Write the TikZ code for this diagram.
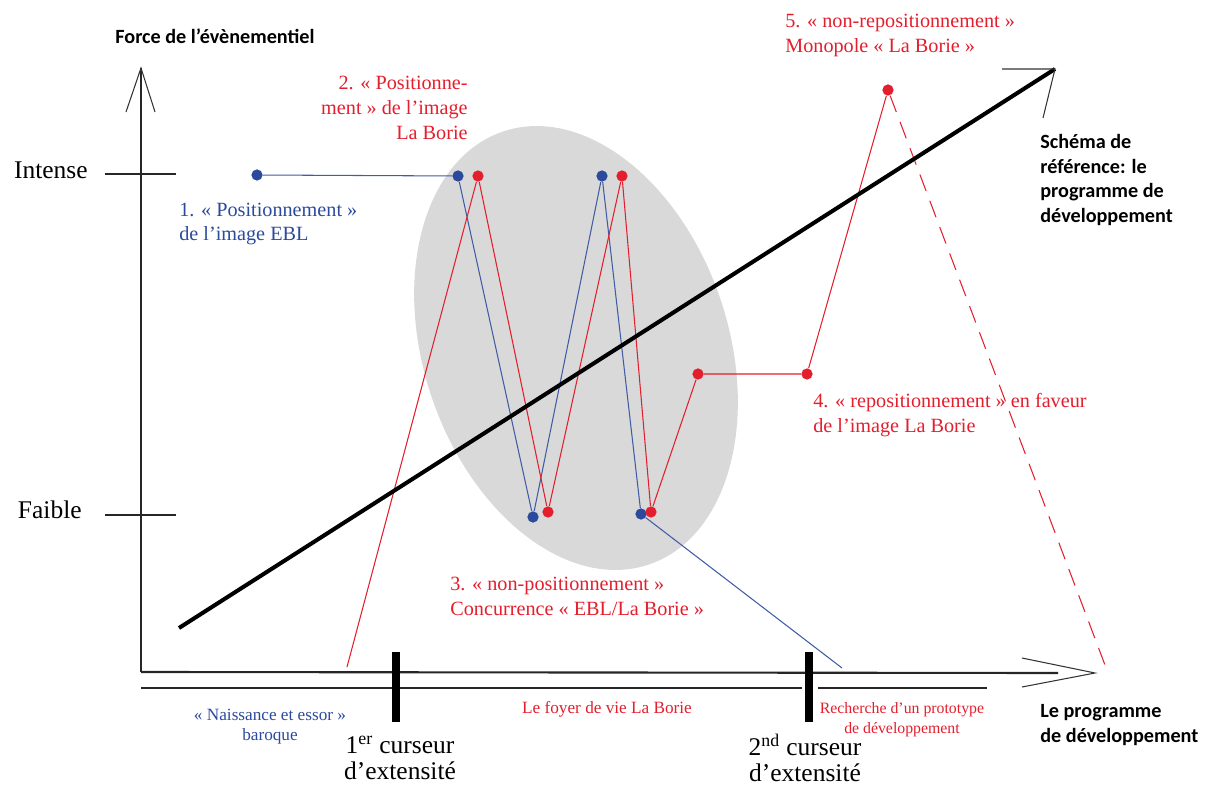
\documentclass[tikz,border=0pt]{standalone}
\usepackage{fontspec}
\setmainfont{Liberation Serif}
\newfontfamily\calibri{Carlito}
\usepackage{xcolor}
\definecolor{ebl}{HTML}{2B4A9B}
\definecolor{borie}{HTML}{E31E2D}
\definecolor{halo}{HTML}{D9D9D9}
\usepackage{tikz}
\usetikzlibrary{backgrounds}

\begin{document}
\begin{tikzpicture}[x=0.02cm, y=-0.02cm,
  bdot/.style={circle, fill=ebl, inner sep=0pt, minimum size=6.4pt},
  rdot/.style={circle, fill=borie, inner sep=0pt, minimum size=6.4pt},
  bline/.style={ebl!90, line width=0.6pt},
  rline/.style={borie, line width=0.6pt},
  axis/.style={black!85, line width=1.2pt},
  tipline/.style={black!80, line width=0.6pt},
  cursor/.style={black, line width=4pt},
  txt/.style={inner sep=0pt, font=\fontsize{11.5}{14.2}\selectfont},
  smalltxt/.style={inner sep=0pt, align=center, font=\fontsize{9.8}{11.3}\selectfont},
  bigtxt/.style={inner sep=0pt, font=\fontsize{14.5}{15}\selectfont},
  boldtxt/.style={inner sep=0pt, align=left, font=\calibri\bfseries\fontsize{11.5}{14.2}\selectfont}]
  \useasboundingbox (0,0) rectangle (1208,787);

  % axes
  \coordinate (orig) at (141,672);
  \coordinate (ytip) at (141,68);
  \coordinate (xend) at (1058,673);
  \coordinate (xtip) at (1095,673);
  \draw[axis] (orig) -- (ytip);
  \draw[axis] (orig) -- (xend);
  \draw[tipline] (126,112) -- (ytip) -- (155,112);
  \draw[tipline] (1022,658) -- (xtip) -- (1022,687);
  \draw[axis] (141,688) -- (802,688);
  \draw[axis] (818,688) -- (987,688);
  \draw[axis] (105,174) -- (176,174);
  \draw[axis] (105,515) -- (176,515);
  \draw[cursor] (396,652) -- (396,722);
  \draw[cursor] (809,652) -- (809,722);

  % points
  \node[bdot] (b1) at (257,175) {};
  \node[bdot] (b2) at (458,176) {};
  \node[bdot] (b3) at (533,517) {};
  \node[bdot] (b4) at (602,176) {};
  \node[bdot] (b5) at (641,514) {};
  \coordinate (bend) at (842,668);
  \coordinate (rstart) at (347,667);
  \node[rdot] (r1) at (478,176) {};
  \node[rdot] (r2) at (548,512) {};
  \node[rdot] (r3) at (622,176) {};
  \node[rdot] (r4) at (651,512) {};
  \node[rdot] (r5) at (698,374) {};
  \node[rdot] (r6) at (807,374) {};
  \node[rdot] (r7) at (888,90) {};
  \coordinate (rend) at (1108,673);
  \coordinate (pstart) at (179,628);
  \coordinate (ptip) at (1055,69);

  \begin{scope}[on background layer]
    \fill[halo, rotate around={-71.4:(576,348)}] (576,348) ellipse [x radius=4.57cm, y radius=3.05cm];
    \draw[bline] (b1) -- (b2) -- (b3) -- (b4) -- (b5) -- (bend);
    \draw[rline] (rstart) -- (r1) -- (r2) -- (r3) -- (r4) -- (r5) -- (r6) -- (r7);
    \draw[rline, dash pattern=on 10pt off 6pt] (r7) -- (rend);
    \draw[black, line width=2.3pt] (pstart) -- (ptip);
    \draw[tipline] (1002,69) -- (ptip) -- (1043,118);
  \end{scope}

  % labels
  \node[boldtxt] (force) at (215,36) {Force de l’évènementiel};
  \node[bigtxt, anchor=east] (intense) at (88,170) {Intense};
  \node[bigtxt, anchor=east] (faible) at (82,510) {Faible};
  \node[txt, ebl, anchor=west, align=left] (lab1) at (179,224) {1. « Positionnement »\\de l’image EBL};
  \node[txt, borie, anchor=east, align=right] (lab2) at (468,108) {2. « Positionne-\\ment » de l’image\\La Borie};
  \node[txt, borie, anchor=west, align=left] (lab3) at (450,596) {3. « non-positionnement »\\Concurrence « EBL/La Borie »};
  \node[txt, borie, anchor=west, align=left] (lab4) at (813,415) {4. « repositionnement » en faveur\\de l’image La Borie};
  \node[txt, borie, anchor=west, align=left] (lab5) at (785,35) {5. « non-repositionnement »\\Monopole « La Borie »};
  \node[boldtxt, anchor=west] (schema) at (1040,180) {Schéma de\\référence: le\\programme de\\développement};
  \node[boldtxt, anchor=west] (prog) at (1040,725) {Le programme\\de développement};
  \node[smalltxt, ebl] (naiss) at (270,727) {« Naissance et essor »\\baroque};
  \node[smalltxt, borie] (foyer) at (607,709) {Le foyer de vie La Borie};
  \node[smalltxt, borie, font=\fontsize{9}{11.3}\selectfont] (recher) at (902,720) {Recherche d’un prototype\\de développement};
  \node[bigtxt, align=center] (cur1) at (400,758) {1\textsuperscript{er} curseur\\d’extensité};
  \node[bigtxt, align=center] (cur2) at (805,758) {2\textsuperscript{nd} curseur\\d’extensité};
\end{tikzpicture}
\end{document}
